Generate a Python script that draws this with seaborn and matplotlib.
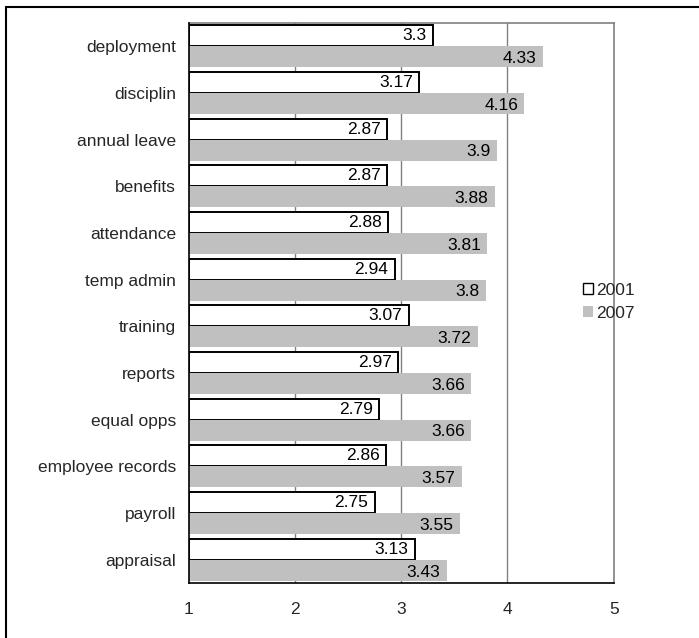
import matplotlib
matplotlib.use("Agg")
import matplotlib.pyplot as plt
import seaborn as sns
import pandas as pd
from matplotlib.patches import Rectangle, Patch
from matplotlib.ticker import FixedLocator

categories = ["deployment", "disciplin", "annual leave", "benefits", "attendance",
              "temp admin", "training", "reports", "equal opps", "employee records",
              "payroll", "appraisal"]
vals_2001 = [3.3, 3.17, 2.87, 2.87, 2.88, 2.94, 3.07, 2.97, 2.79, 2.86, 2.75, 3.13]
vals_2007 = [4.33, 4.16, 3.9, 3.88, 3.81, 3.8, 3.72, 3.66, 3.66, 3.57, 3.55, 3.43]
labels_2001 = ["3.3", "3.17", "2.87", "2.87", "2.88", "2.94", "3.07", "2.97", "2.79", "2.86", "2.75", "3.13"]
labels_2007 = ["4.33", "4.16", "3.9", "3.88", "3.81", "3.8", "3.72", "3.66", "3.66", "3.57", "3.55", "3.43"]
series = ["2001", "2007"]
x_ticks = [1, 2, 3, 4, 5]

df = pd.DataFrame({
    "category": categories * 2,
    "value": vals_2001 + vals_2007,
    "year": [series[0]] * len(categories) + [series[1]] * len(categories),
})

sns.set_style("white")
plt.rcParams["font.family"] = ["Liberation Sans", "DejaVu Sans"]
FS = 12.5

fig = plt.figure(figsize=(6.99, 6.38), dpi=100)
ax = fig.add_axes([0.270, 0.0862, 0.608, 0.878])

bar_colors = {"2001": "white", "2007": "#c0c0c0"}
sns.barplot(data=df, y="category", x="value", hue="year", order=categories,
            hue_order=series, palette=bar_colors, orient="h", width=0.9,
            ax=ax, legend=False, zorder=3)

n = len(categories)
patches = list(ax.patches)
for i, p in enumerate(patches):
    x0 = p.get_x()
    w = p.get_width()
    p.set_x(1)
    p.set_width(x0 + w - 1)
    if i < n:
        p.set_edgecolor("black")
        p.set_linewidth(1.4)
    else:
        p.set_edgecolor("none")
        p.set_linewidth(0)

for i, p in enumerate(patches):
    lab = labels_2001[i] if i < n else labels_2007[i - n]
    xe = p.get_x() + p.get_width()
    yc = p.get_y() + p.get_height() / 2
    ax.text(xe - 0.06, yc + (0.0 if i < n else 0.04), lab, ha="right", va="center",
            fontsize=FS, color="black", zorder=5)

ax.set_xlim(1, 5)
ax.set_ylim(n - 0.5, -0.5)
ax.xaxis.set_major_locator(FixedLocator(x_ticks))
ax.set_xticklabels([str(t) for t in x_ticks], fontsize=FS)
ax.set_xlabel("")
ax.set_ylabel("")
ax.tick_params(axis="x", direction="inout", length=7, width=1, color="black", pad=10)
ax.tick_params(axis="y", which="major", length=0, labelsize=FS, pad=9)
ax.yaxis.set_minor_locator(FixedLocator([i - 0.5 for i in range(n + 1)]))
ax.tick_params(axis="y", which="minor", direction="out", length=5, width=1, color="black")

for g in [2, 3, 4]:
    ax.axvline(g, color="#808080", lw=1, zorder=1)

for side in ["top", "right"]:
    ax.spines[side].set_color("#808080")
    ax.spines[side].set_linewidth(1.2)
for side in ["left", "bottom"]:
    ax.spines[side].set_color("black")
    ax.spines[side].set_linewidth(1.2)
    ax.spines[side].set_zorder(6)

handles = [Patch(facecolor="white", edgecolor="black", lw=1),
           Patch(facecolor="#c0c0c0", edgecolor="none")]
fig.legend(handles, series, loc="center left", bbox_to_anchor=(0.834, 0.527),
           frameon=False, fontsize=FS, handlelength=0.6, handleheight=0.6,
           handletextpad=0.15, labelspacing=0.45, borderaxespad=0, borderpad=0)

fig.patches.append(Rectangle((6 / 699, -0.1), 1.2, 1 - 7 / 638 + 0.1,
                             transform=fig.transFigure, fill=False,
                             edgecolor="black", lw=1.5))

fig.savefig("out.png", dpi=100)
